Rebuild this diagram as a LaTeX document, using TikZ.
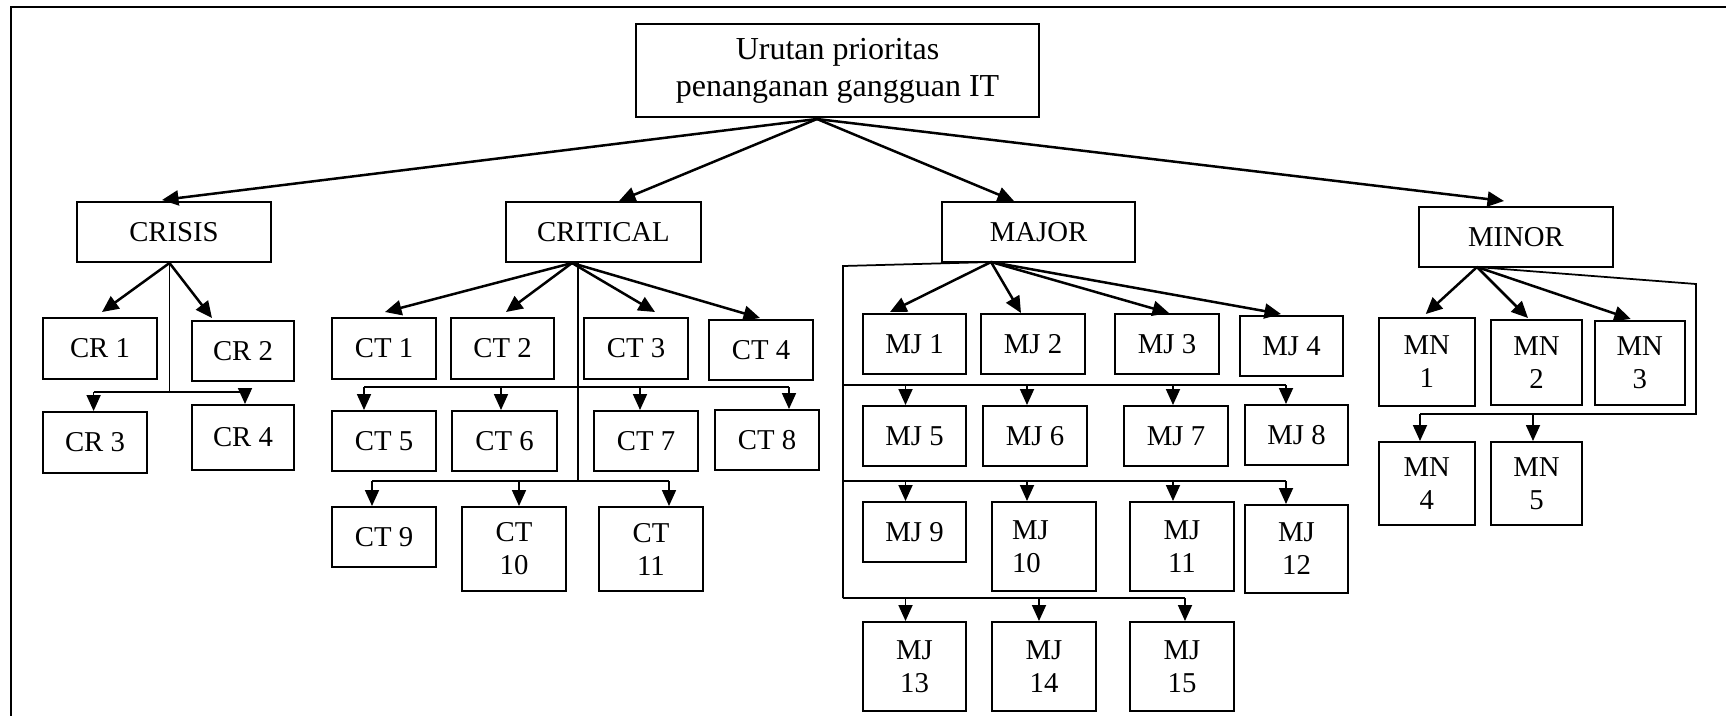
\documentclass[tikz,border=0pt]{standalone}
\usepackage{fontspec}
\setmainfont{Liberation Serif}
\usetikzlibrary{arrows.meta,calc}
\begin{document}
\begin{tikzpicture}[x=0.4pt,y=-0.4pt,
  box/.style={draw,line width=0.8pt,align=center,inner sep=0pt,
    font=\fontsize{11.5}{13.2}\selectfont},
  sz/.style 2 args={minimum width=#1*0.4pt,minimum height=#2*0.4pt},
  arr/.style={line width=1pt,-{Triangle[length=6.6pt,width=6pt]}},
  drop/.style={line width=0.7pt,-{Triangle[length=6.4pt,width=5.6pt]}},
  bus/.style={line width=0.7pt},
  border/.style={line width=1pt}]
\useasboundingbox (0,0) rectangle (1726,716);

% outer border (top and left sides)
\coordinate (ftr) at (1726,7);
\coordinate (ftl) at (11,7);
\coordinate (fbl) at (11,716);
\draw[border] (ftr) -- (ftl) -- (fbl);

% root
\node[box,sz={403}{93},font=\fontsize{12.8}{14.7}\selectfont] (root) at (837.5,70.5)
  {Urutan prioritas\\penanganan gangguan IT};

% level 1
\node[box,sz={194}{60}] (crisis)   at (174,232)    {CRISIS};
\node[box,sz={195}{60}] (critical) at (603.5,232)  {CRITICAL};
\node[box,sz={193}{60}] (major)    at (1038.5,232) {MAJOR};
\node[box,sz={194}{60}] (minor)    at (1516,237)   {MINOR};

% CRISIS group
\node[box,sz={114}{61}] (cr1) at (100,348.5) {CR 1};
\node[box,sz={102}{60}] (cr2) at (243,351)   {CR 2};
\node[box,sz={104}{61}] (cr3) at (95,442.5)  {CR 3};
\node[box,sz={102}{65}] (cr4) at (243,437.5) {CR 4};

% CRITICAL group
\node[box,sz={104}{61}] (ct1)  at (384,348.5) {CT 1};
\node[box,sz={103}{61}] (ct2)  at (502.5,348.5) {CT 2};
\node[box,sz={104}{61}] (ct3)  at (636,348.5) {CT 3};
\node[box,sz={104}{60}] (ct4)  at (761,350)   {CT 4};
\node[box,sz={104}{60}] (ct5)  at (384,441)   {CT 5};
\node[box,sz={105}{60}] (ct6)  at (504.5,441) {CT 6};
\node[box,sz={104}{60}] (ct7)  at (646,441)   {CT 7};
\node[box,sz={104}{60}] (ct8)  at (767,440)   {CT 8};
\node[box,sz={104}{60}] (ct9)  at (384,537)   {CT 9};
\node[box,sz={104}{84}] (ct10) at (514,549)   {CT\\10};
\node[box,sz={104}{84}] (ct11) at (651,549)   {CT\\11};

% MAJOR group
\node[box,sz={103}{60}] (mj1)  at (914.5,344)  {MJ 1};
\node[box,sz={104}{60}] (mj2)  at (1033,344)   {MJ 2};
\node[box,sz={104}{60}] (mj3)  at (1167,344)   {MJ 3};
\node[box,sz={103}{60}] (mj4)  at (1291.5,346) {MJ 4};
\node[box,sz={103}{60}] (mj5)  at (914.5,436)  {MJ 5};
\node[box,sz={104}{60}] (mj6)  at (1035,436)   {MJ 6};
\node[box,sz={104}{60}] (mj7)  at (1176,436)   {MJ 7};
\node[box,sz={103}{60}] (mj8)  at (1296.5,435) {MJ 8};
\node[box,sz={103}{60}] (mj9)  at (914.5,532)  {MJ 9};
\node[box,sz={104}{89},text width=25.6pt,inner xsep=8pt,align=left]
                        (mj10) at (1044,546.5) {MJ\\10};
\node[box,sz={104}{89}] (mj11) at (1182,546.5) {MJ\\11};
\node[box,sz={103}{88}] (mj12) at (1296.5,549) {MJ\\12};
\node[box,sz={103}{89}] (mj13) at (914.5,666.5) {MJ\\13};
\node[box,sz={104}{89}] (mj14) at (1044,666.5)  {MJ\\14};
\node[box,sz={104}{89}] (mj15) at (1182,666.5)  {MJ\\15};

% MINOR group
\node[box,sz={96.5}{88}] (mn1) at (1426.75,362) {MN\\1};
\node[box,sz={91}{85}]   (mn2) at (1536.5,362.5) {MN\\2};
\node[box,sz={90.5}{84}] (mn3) at (1639.75,363) {MN\\3};
\node[box,sz={96.5}{83}] (mn4) at (1426.75,483.5) {MN\\4};
\node[box,sz={91}{83}]   (mn5) at (1536.5,483.5) {MN\\5};

% root to level 1
\coordinate (rs) at ($(root.south)+(-20.5,1)$);
\draw[arr] (rs) -- ($(crisis.north)+(-12,-1)$);
\draw[arr] (rs) -- ($(critical.north)+(15.5,0)$);
\draw[arr] (rs) -- ($(major.north)+(-24.5,0)$);
\draw[arr] (rs) -- ($(minor.north)+(-12,-5)$);

% CRISIS connectors
\coordinate (cs) at ($(crisis.south)+(-4.5,0)$);
\coordinate (cb) at (169.5,392);
\coordinate (c3) at (93.6,392);
\coordinate (c4) at (245,392);
\draw[arr] (cs) -- ($(cr1.north)+(2,-5)$);
\draw[arr] (cs) -- ($(cr2.north)+(-31,-2)$);
\draw[bus] (cs) -- (cb);
\draw[bus] (c3) -- (c4);
\draw[drop] (c3) -- (c3 |- cr3.north);
\draw[drop] (c4) -- (c4 |- cr4.north);

% CRITICAL connectors
\coordinate (ks) at ($(critical.south)+(-31.5,0)$);
\coordinate (kv) at ($(critical.south)+(-25.5,0)$);
\coordinate (b5) at (364,387);
\coordinate (b6) at (501,387);
\coordinate (b7) at (640,387);
\coordinate (b8) at (789,387);
\coordinate (b9) at (372,481);
\coordinate (b10) at (519,481);
\coordinate (b11) at (669,481);
\draw[arr] (ks) -- ($(ct1.north)+(1,-5)$);
\draw[arr] (ks) -- ($(ct2.north)+(3.5,-5)$);
\draw[arr] (ks) -- ($(ct3.north)+(19,-5)$);
\draw[arr] (ks) -- ($(ct4.north)+(-1,-1)$);
\draw[bus] (kv) -- (kv |- b9);
\draw[bus] (b5) -- (b8);
\draw[bus] (b9) -- (b11);
\foreach \b/\n in {b5/ct5,b6/ct6,b7/ct7,b8/ct8,b9/ct9,b10/ct10,b11/ct11}
  \draw[drop] (\b) -- (\b |- \n.north);

% MAJOR connectors
\coordinate (ms) at ($(major.south)+(-47.5,-1)$);
\coordinate (mc) at (843,266);
\coordinate (j5) at (905.5,385);
\coordinate (j6) at (1027,385);
\coordinate (j7) at (1173,385);
\coordinate (j8) at (1286,385);
\coordinate (j9) at (905.5,481);
\coordinate (j10) at (1027,481);
\coordinate (j11) at (1173,481);
\coordinate (j12) at (1286,481);
\coordinate (j13) at (905.5,598);
\coordinate (j14) at (1039,598);
\coordinate (j15) at (1185,598);
\draw[arr] (ms) -- ($(mj1.north)+(-24.5,-1)$);
\draw[arr] (ms) -- ($(mj2.north)+(-12,0)$);
\draw[arr] (ms) -- ($(mj3.north)+(2,0)$);
\draw[arr] (ms) -- ($(mj4.north)+(-10.5,-1)$);
\draw[bus] (ms) -- (mc) -- (mc |- j13);
\draw[bus] (mc |- j5) -- (j8);
\draw[bus] (mc |- j9) -- (j12);
\draw[bus] (mc |- j13) -- (j15);
\foreach \b/\n in {j5/mj5,j6/mj6,j7/mj7,j8/mj8,j9/mj9,j10/mj10,j11/mj11,j12/mj12,
                   j13/mj13,j14/mj14,j15/mj15}
  \draw[drop] (\b) -- (\b |- \n.north);

% MINOR connectors
\coordinate (ns) at ($(minor.south)+(-39,-1)$);
\coordinate (nr1) at (1696,284);
\coordinate (nr2) at (1696,414);
\coordinate (n4) at (1420,414);
\coordinate (n5) at (1533,414);
\draw[arr] (ns) -- ($(mn1.north)+(-1,-3)$);
\draw[arr] (ns) -- ($(mn2.north)+(-8.5,-1)$);
\draw[arr] (ns) -- ($(mn3.north)+(-9,-1)$);
\draw[bus] (ns) -- (nr1) -- (nr2) -- (n4);
\draw[drop] (n4) -- (n4 |- mn4.north);
\draw[drop] (n5) -- (n5 |- mn5.north);
\end{tikzpicture}
\end{document}
